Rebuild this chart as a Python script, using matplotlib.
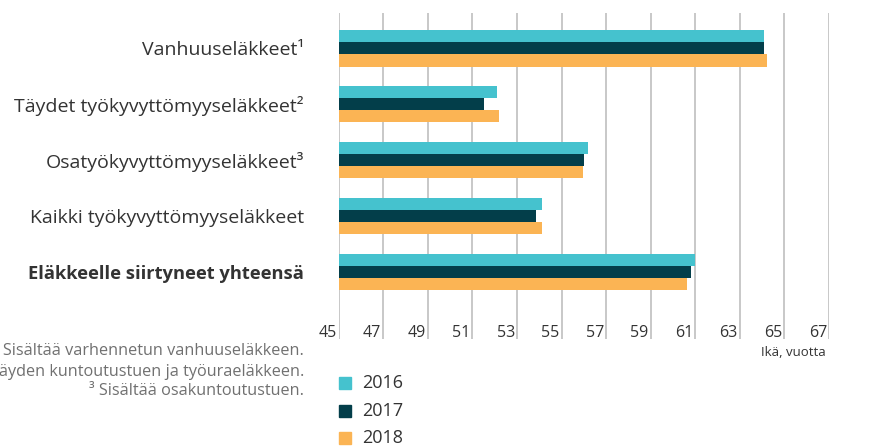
import matplotlib.pyplot as plt
import matplotlib.transforms as mtransforms
import numpy as np

plt.rcParams['font.family'] = ['Open Sans', 'DejaVu Sans']

categories = ["Vanhuuseläkkeet¹", "Täydet työkyvyttömyyseläkkeet²",
              "Osatyökyvyttömyyseläkkeet³", "Kaikki työkyvyttömyyseläkkeet",
              "Eläkkeelle siirtyneet yhteensä"]
years = ["2016", "2017", "2018"]
v2016 = [64.1, 52.1, 56.2, 54.1, 61.0]
v2017 = [64.1, 51.5, 56.0, 53.85, 60.8]
v2018 = [64.2, 52.2, 55.95, 54.1, 60.65]
xticks = list(range(45, 68, 2))
footnotes = ["¹ Sisältää varhennetun vanhuuseläkkeen.",
             "² Sisältää täyden kuntoutustuen ja työuraeläkkeen.",
             "³ Sisältää osakuntoutustuen."]

colors = ["#45C2CE", "#033E4A", "#FBB454"]
text_col = "#333333"

fig = plt.figure(figsize=(8.89, 4.46), dpi=100)
ax = fig.add_axes([0.381, 1 - 339 / 446, 0.5515, (339 - 13) / 446])

y = np.arange(len(categories))
h = 0.215
base = 45
for i, vals in enumerate([v2016, v2017, v2018]):
    ax.barh(y + (i - 1) * h, np.array(vals) - base, left=base, height=h,
            color=colors[i], zorder=3)

ax.set_xlim(45, 67)
ax.set_ylim(4 + (339 - 272) / 55.9, -(48.5 - 13) / 55.9)
ax.set_xticks(xticks)
ax.grid(axis='x', color="#C8C8C8", linewidth=1.4, zorder=0)
ax.tick_params(axis='x', length=0, labelbottom=False)
ax.tick_params(axis='y', length=0, pad=25)
ax.set_yticks(y)
ax.set_yticklabels(categories, fontsize=14, color=text_col)
ax.get_yticklabels()[-1].set_fontweight('bold')
ax.get_yticklabels()[-1].set_fontsize(13.2)
for s in ax.spines.values():
    s.set_visible(False)

trans = mtransforms.blended_transform_factory(ax.transData, ax.transAxes)
trans = trans + mtransforms.ScaledTranslation(-2 / 100, -2 / 100, fig.dpi_scale_trans)
for t in xticks:
    ax.text(t, 0.0, str(t), transform=trans, ha='right', va='bottom',
            fontsize=11.5, color=text_col)

fig.text(826 / 889, 1 - 353 / 446, "Ikä, vuotta", ha='right', va='center',
         fontsize=9.5, color=text_col)

for k, note in enumerate(footnotes):
    fig.text(304 / 889, 1 - (351 + 20 * k) / 446, note, ha='right', va='center',
             fontsize=11.7, color="#707070")

for k, yr in enumerate(years):
    yy = 1 - (383 + 27.5 * k) / 446
    fig.patches.append(plt.Rectangle((339 / 889, yy - 6 / 446), 12 / 889, 12 / 446,
                                     transform=fig.transFigure, color=colors[k]))
    fig.text(362 / 889, yy, yr, ha='left', va='center', fontsize=13, color=text_col)

fig.savefig("out.png", dpi=100)
